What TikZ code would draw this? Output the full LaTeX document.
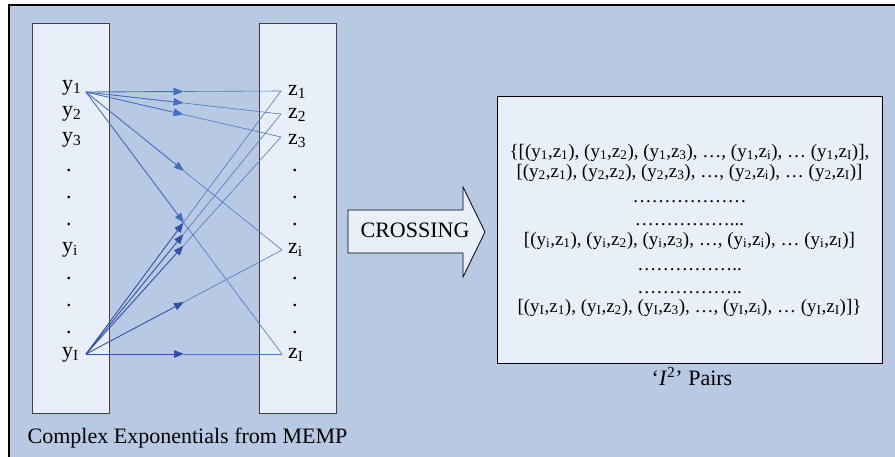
\documentclass[tikz,border=0pt]{standalone}
\usepackage{fontspec}
\setmainfont{Liberation Serif}
\usetikzlibrary{arrows.meta,calc}
\definecolor{bgblue}{RGB}{184,201,227}
\definecolor{boxfill}{RGB}{233,239,248}
\definecolor{lnA}{RGB}{66,110,196}
\definecolor{lnB}{RGB}{48,82,170}
\definecolor{lnC}{RGB}{74,118,202}
\newcommand\conn[3]{%
  \draw[seghead,#3] (#1) -- ($(#1)!0.5!(#2)$);
  \draw[segtail] ($(#1)!0.5!(#2)$) -- (#2);}
\begin{document}
\begin{tikzpicture}[x=1pt,y=-1pt,
  colbox/.style={draw=black!75,line width=0.8pt,fill=boxfill,minimum width=77pt,minimum height=390pt,inner sep=0pt},
  pairbox/.style={draw=black,line width=0.9pt,fill=boxfill,minimum width=385pt,minimum height=267pt,inner sep=0pt},
  lbl/.style={font=\fontsize{22}{24}\selectfont,inner sep=0pt,anchor=base west},
  captxt/.style={font=\fontsize{22}{24}\selectfont,inner sep=0pt,anchor=base},
  pairtxt/.style={font=\fontsize{19}{22}\selectfont,inner sep=0pt,anchor=base},
  seghead/.style={line width=0.9pt,-{Triangle[length=10pt,width=7.5pt]}},
  segtail/.style={line width=0.6pt,lnC}]
\useasboundingbox (0,0) rectangle (895,456);
\clip (0,0) rectangle (895,456);
\fill[white] (0,0) rectangle (895,456);
\draw[fill=bgblue,line width=1.2pt] (9,5) rectangle (905,470);
% columns
\node[colbox] (lcol) at (70.5,218) {};
\node[colbox] (rcol) at (297.5,218) {};
% y labels
\node[lbl] (y1) at (62,90) {y\textsubscript{1}};
\node[lbl] (y2) at (62,116) {y\textsubscript{2}};
\node[lbl] (y3) at (62,142) {y\textsubscript{3}};
\node[lbl] (yd1) at (66,171) {.};
\node[lbl] (yd2) at (66,198) {.};
\node[lbl] (yd3) at (66,225) {.};
\node[lbl] (yi) at (62,252) {y\textsubscript{i}};
\node[lbl] (yd4) at (66,279) {.};
\node[lbl] (yd5) at (66,306) {.};
\node[lbl] (yd6) at (66,333) {.};
\node[lbl] (yI) at (62,357) {y\textsubscript{I}};
% z labels
\node[lbl] (z1) at (288,95) {z\textsubscript{1}};
\node[lbl] (z2) at (288,118) {z\textsubscript{2}};
\node[lbl] (z3) at (288,144) {z\textsubscript{3}};
\node[lbl] (zd1) at (292,171) {.};
\node[lbl] (zd2) at (292,198) {.};
\node[lbl] (zd3) at (292,225) {.};
\node[lbl] (zi) at (288,253) {z\textsubscript{i}};
\node[lbl] (zd4) at (292,279) {.};
\node[lbl] (zd5) at (292,306) {.};
\node[lbl] (zd6) at (292,333) {.};
\node[lbl] (zI) at (288,358) {z\textsubscript{I}};
% connection points
\coordinate (a1) at (86,92);
\coordinate (aI) at (86,354);
\coordinate (b1) at (281,91);
\coordinate (b2) at (281,114);
\coordinate (b3) at (281,137);
\coordinate (bi) at (282,250);
\coordinate (bI) at (282,354);
% connectors
\conn{a1}{b1}{lnA}
\conn{a1}{b2}{lnA}
\conn{a1}{b3}{lnA}
\conn{a1}{bi}{lnA}
\conn{a1}{bI}{lnA}
\conn{aI}{b1}{lnB}
\conn{aI}{b2}{lnB}
\conn{aI}{b3}{lnB}
\conn{aI}{bi}{lnB}
\conn{aI}{bI}{lnB}
\node[captxt] (capL) at (187.5,443) {Complex Exponentials from MEMP};
% crossing arrow
\draw[fill=boxfill,line width=0.8pt] (348,210) -- (463,210) -- (463,187) -- (485,232) -- (463,277) -- (463,253) -- (348,253) -- cycle;
\node[captxt] (cross) at (415,237) {CROSSING};
% pairs box
\node[pairbox] (pbox) at (689.5,229.5) {};
\node[pairtxt] (l1) at (689.5,157) {\{[(y\textsubscript{1},z\textsubscript{1}), (y\textsubscript{1},z\textsubscript{2}), (y\textsubscript{1},z\textsubscript{3}), …, (y\textsubscript{1},z\textsubscript{i}), … (y\textsubscript{1},z\textsubscript{I})],};
\node[pairtxt] (l2) at (689.5,177) {[(y\textsubscript{2},z\textsubscript{1}), (y\textsubscript{2},z\textsubscript{2}), (y\textsubscript{2},z\textsubscript{3}), …, (y\textsubscript{2},z\textsubscript{i}), … (y\textsubscript{2},z\textsubscript{I})]};
\node[pairtxt] (l3) at (689.5,202) {………………};
\node[pairtxt] (l4) at (689.5,225) {……………...};
\node[pairtxt] (l5) at (689.5,245) {[(y\textsubscript{i},z\textsubscript{1}), (y\textsubscript{i},z\textsubscript{2}), (y\textsubscript{i},z\textsubscript{3}), …, (y\textsubscript{i},z\textsubscript{i}), … (y\textsubscript{i},z\textsubscript{I})]};
\node[pairtxt] (l6) at (689.5,270) {……………..};
\node[pairtxt] (l7) at (689.5,293) {……………..};
\node[pairtxt] (l8) at (689.5,312) {[(y\textsubscript{I},z\textsubscript{1}), (y\textsubscript{I},z\textsubscript{2}), (y\textsubscript{I},z\textsubscript{3}), …, (y\textsubscript{I},z\textsubscript{i}), … (y\textsubscript{I},z\textsubscript{I})]\}};
\node[captxt] (capR) at (692,385) {‘\textit{I}\textsuperscript{2}’ Pairs};
\end{tikzpicture}
\end{document}
